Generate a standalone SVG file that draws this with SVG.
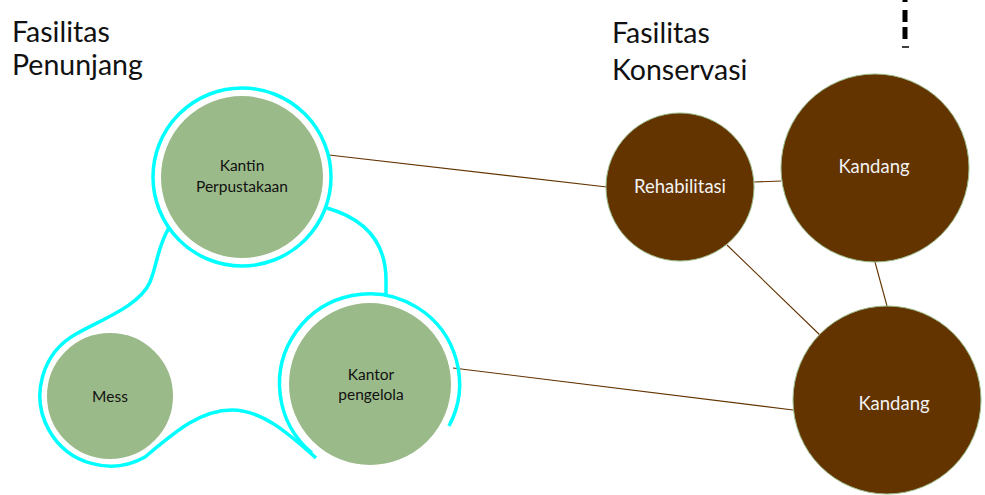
<svg xmlns="http://www.w3.org/2000/svg" width="985" height="495" viewBox="0 0 985 495">
<style>
.title{font-family:Lato,"Open Sans","Liberation Sans",sans-serif;font-size:28.5px;fill:#111}
.lbl{font-family:Lato,"Open Sans","Liberation Sans",sans-serif;text-anchor:middle}
.g{fill:#9BBA89;stroke:#fff;stroke-width:2}
.b{fill:#633300;stroke:#9BBB89;stroke-width:1}
.gt{fill:#111;font-size:15.5px}
.bt{fill:#F2F2F2;font-size:18.5px}
.cy{fill:none;stroke:#00FFFF;stroke-width:3.5;stroke-linecap:butt}
.edge{stroke:#633300;stroke-width:1.1;fill:none}
</style>
<rect width="985" height="495" fill="#fff"/>
<text class="title" x="12" y="42">Fasilitas</text>
<text class="title" x="12" y="75">Penunjang</text>
<text class="title" x="612" y="43">Fasilitas</text>
<text class="title" x="612" y="80">Konservasi</text>
<line x1="905" y1="0" x2="905" y2="45" stroke="#000" stroke-width="5" stroke-dasharray="2,8,12,5,12,6"/>
<line x1="902" y1="47" x2="909" y2="47" stroke="#000" stroke-width="1.5"/>
<g id="connectors">
<line class="edge" x1="329" y1="155" x2="607" y2="187"/>
<line class="edge" x1="754" y1="182" x2="781" y2="181" stroke="#a07a5a"/>
<line class="edge" x1="727" y1="245" x2="822" y2="337"/>
<line class="edge" x1="875" y1="262" x2="887" y2="306"/>
<line class="edge" x1="453" y1="368" x2="793" y2="410"/>
</g>
<g id="outline">
<circle class="cy" cx="242" cy="177" r="89"/>
<path class="cy" d="M 327 208 C 362 218 386 240 386 280 L 386 296"/>
<path class="cy" d="M 449 426 A 90 90 0 1 0 312 453"/>
<path class="cy" d="M 316 458 C 288 433 262 410 232 410 C 200 410 175 432 145 457 A 70 70 0 1 1 76 334 C 105 318 140 305 150 282 C 157 265 158 245 169 228"/>
</g>
<g id="kantin">
<circle class="g" cx="242" cy="177" r="82"/>
<text class="lbl gt" x="242" y="171">Kantin</text>
<text class="lbl gt" x="242" y="192">Perpustakaan</text>
</g>
<g id="mess">
<circle class="g" cx="110" cy="396" r="64"/>
<text class="lbl gt" x="110" y="402">Mess</text>
</g>
<g id="kantor">
<circle class="g" cx="370" cy="384" r="82"/>
<text class="lbl gt" x="371" y="380">Kantor</text>
<text class="lbl gt" x="371" y="400">pengelola</text>
</g>
<g id="rehabilitasi">
<circle class="b" cx="680" cy="187" r="74"/>
<text class="lbl bt" x="680" y="193">Rehabilitasi</text>
</g>
<g id="kandang1">
<circle class="b" cx="875" cy="168" r="94"/>
<text class="lbl bt" x="874" y="173">Kandang</text>
</g>
<g id="kandang2">
<circle class="b" cx="887" cy="400" r="94"/>
<text class="lbl bt" x="894" y="410">Kandang</text>
</g>
</svg>
